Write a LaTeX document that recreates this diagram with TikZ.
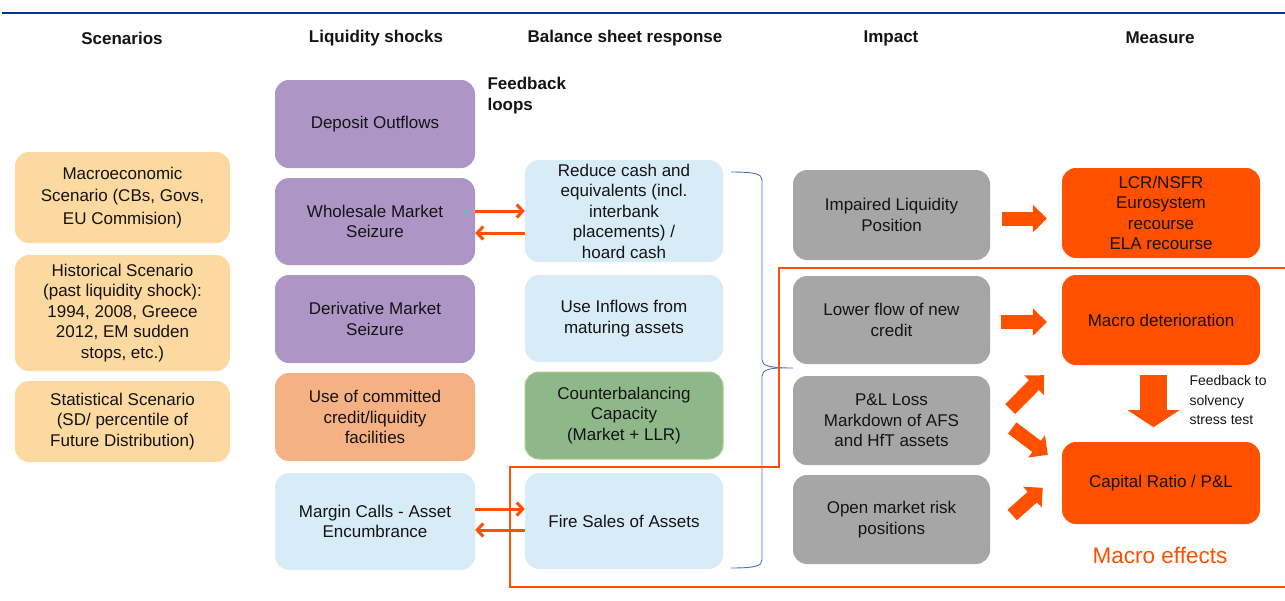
\documentclass[tikz,border=0pt]{standalone}
\usepackage{fontspec}
\setmainfont{Liberation Sans}
\usetikzlibrary{arrows.meta,calc}
\definecolor{topblue}{RGB}{0,51,153}
\definecolor{scen}{RGB}{252,217,160}
\definecolor{purp}{RGB}{173,149,198}
\definecolor{lorange}{RGB}{245,177,131}
\definecolor{lblue}{RGB}{216,236,247}
\definecolor{lgreen}{RGB}{142,184,138}
\definecolor{lgreenb}{RGB}{170,205,130}
\definecolor{grey}{RGB}{166,166,166}
\definecolor{ored}{RGB}{255,80,0}
\definecolor{braceblue}{RGB}{68,114,196}
\definecolor{txt}{RGB}{20,20,20}
\tikzset{
  box/.style={rounded corners=14pt, inner sep=0pt, align=center, text=txt,
    font=\fontsize{17}{20.5}\selectfont},
  scenbox/.style={box, fill=scen, minimum width=215pt},
  liqbox/.style={box, minimum width=200pt, minimum height=88pt},
  balbox/.style={box, minimum width=198pt},
  impbox/.style={box, fill=grey, minimum width=197pt, minimum height=89pt},
  meabox/.style={box, fill=ored, minimum width=198pt, minimum height=90pt},
  header/.style={font=\bfseries\fontsize{17}{21}\selectfont, text=txt},
  thinarrow/.style={draw=ored, line width=3pt, -{Straight Barb[length=6pt 0 0, width=13pt 0 0]}},
  fatarrow/.style={draw=ored, line width=14pt, -{Triangle[length=14pt 0 0, width=27pt 0 0]}},
  bigarrow/.style={draw=ored, line width=27pt, -{Triangle[length=17pt 0 0, width=51pt 0 0]}},
}
\begin{document}
\begin{tikzpicture}[x=1pt,y=-1pt]
\useasboundingbox (0,0) rectangle (1285,600);
\draw[topblue, line width=2.5pt] (2,13) -- (1285,13);

% headers
\node[header] (h1) at (122,38) {Scenarios};
\node[header] (h2) at (376,38) {Liquidity shocks};
\node[header] (h3) at (625,38) {Balance sheet response};
\node[header] (h4) at (891,38) {Impact};
\node[header] (h5) at (1160,38) {Measure};
\node[header, align=left, anchor=north west] (fb) at (484,74) {Feedback\\loops};

% scenarios
\node[scenbox, minimum height=91pt, font=\fontsize{17}{22.5}\selectfont] (s1) at (122.5,197.5) {Macroeconomic\\Scenario (CBs, Govs,\\EU Commision)};
\node[scenbox, minimum height=116pt] (s2) at (122.5,313) {Historical Scenario\\(past liquidity shock):\\1994, 2008, Greece\\2012, EM sudden\\stops, etc.)};
\node[scenbox, minimum height=81pt] (s3) at (122.5,421.5) {Statistical Scenario\\(SD/ percentile of\\Future Distribution)};

% liquidity shocks
\node[liqbox, fill=purp] (l1) at (375,124) {Deposit Outflows};
\node[liqbox, fill=purp, minimum height=87pt] (l2) at (375,221.5) {Wholesale Market\\Seizure};
\node[liqbox, fill=purp] (l3) at (375,319) {Derivative Market\\Seizure};
\node[liqbox, fill=lorange] (l4) at (375,417) {Use of committed\\credit/liquidity\\facilities};
\node[liqbox, fill=lblue, minimum height=97pt] (l5) at (375,521.5) {Margin Calls - Asset\\Encumbrance};

% balance sheet response
\node[balbox, fill=lblue, minimum height=102pt] (b1) at (624,211) {\raisebox{-3pt}{\parbox{190pt}{\centering\fontsize{17}{20.5}\selectfont Reduce cash and\\equivalents (incl.\\interbank\\placements) /\\hoard cash}}};
\node[balbox, fill=lblue, minimum height=87pt] (b2) at (624,318.5) {Use Inflows from\\maturing assets};
\node[balbox, fill=lgreen, draw=lgreenb, line width=1pt, minimum height=87pt] (b3) at (624,415.5) {Counterbalancing\\Capacity\\(Market + LLR)};
\node[balbox, fill=lblue, minimum height=96pt] (b4) at (624,521) {Fire Sales of Assets};

% impact
\node[impbox, minimum height=90pt] (i1) at (891.5,215) {Impaired Liquidity\\Position};
\node[impbox, minimum height=88pt] (i2) at (891.5,320) {Lower flow of new\\credit};
\node[impbox] (i3) at (891.5,420.5) {P\&L Loss\\Markdown of AFS\\and HfT assets};
\node[impbox] (i4) at (891.5,519.5) {Open market risk\\positions};

% measure
\node[meabox] (m1) at (1161,213) {LCR/NSFR\\Eurosystem\\recourse\\ELA recourse};
\node[meabox] (m2) at (1161,320) {Macro deterioration};
\node[meabox, minimum height=82pt] (m3) at (1161,483) {Capital Ratio / P\&L};

\node[anchor=north west, align=left, text=txt, font=\fontsize{14}{19.5}\selectfont] (fbs) at (1186,372) {Feedback to\\solvency\\stress test};
\node[text=ored, font=\fontsize{22.5}{26}\selectfont] (me) at (1160,555) {Macro effects};

% brace
\draw[braceblue, line width=0.9pt] (731,172) .. controls (755,172) and (762,174) .. (762,180) -- (762,360)
  .. controls (762,366) and (770,368) .. (793,368);
\draw[braceblue, line width=0.9pt] (782,368) .. controls (770,368) and (762,370) .. (762,376) -- (762,560)
  .. controls (762,566) and (755,568) .. (731,568);

% orange outline
\draw[ored, line width=2pt] (1285,268) -- (779,268) -- (779,467) -- (510,467) -- (510,587) -- (1285,587);

% thin arrows
\draw[thinarrow] ([yshift=10.5pt]l2.east) -- ([yshift=10.5pt]l2.east -| b1.west);
\draw[thinarrow] ([yshift=-11.5pt]l2.east -| b1.west) -- ([yshift=-11.5pt]l2.east);
\draw[thinarrow] ([yshift=12.5pt]l5.east) -- ([yshift=12.5pt]l5.east -| b4.west);
\draw[thinarrow] ([yshift=-8.5pt]l5.east -| b4.west) -- ([yshift=-8.5pt]l5.east);

% fat arrows
\draw[fatarrow] ([xshift=12pt,yshift=-3.5pt]i1.east) -- ([xshift=-15pt,yshift=-3.5pt]i1.east -| m1.west);
\draw[fatarrow] ([xshift=11pt,yshift=-2pt]i2.east) -- ([xshift=-15pt,yshift=-2pt]i2.east -| m2.west);
\draw[fatarrow] ([xshift=20pt,yshift=11.5pt]i3.east) -- ([xshift=-18pt,yshift=-10pt]m2.south west);
\draw[fatarrow] ([xshift=22pt,yshift=-7.5pt]i3.east) -- ([xshift=-14pt,yshift=-13pt]m3.north west);
\draw[fatarrow] ([xshift=22pt,yshift=4.5pt]i4.east) -- ([xshift=-19pt,yshift=-46pt]m3.north west);
\draw[bigarrow] ([xshift=-7.5pt,yshift=-10pt]m2.south) -- ([xshift=-7.5pt,yshift=-62pt]m2.south);
\end{tikzpicture}
\end{document}
